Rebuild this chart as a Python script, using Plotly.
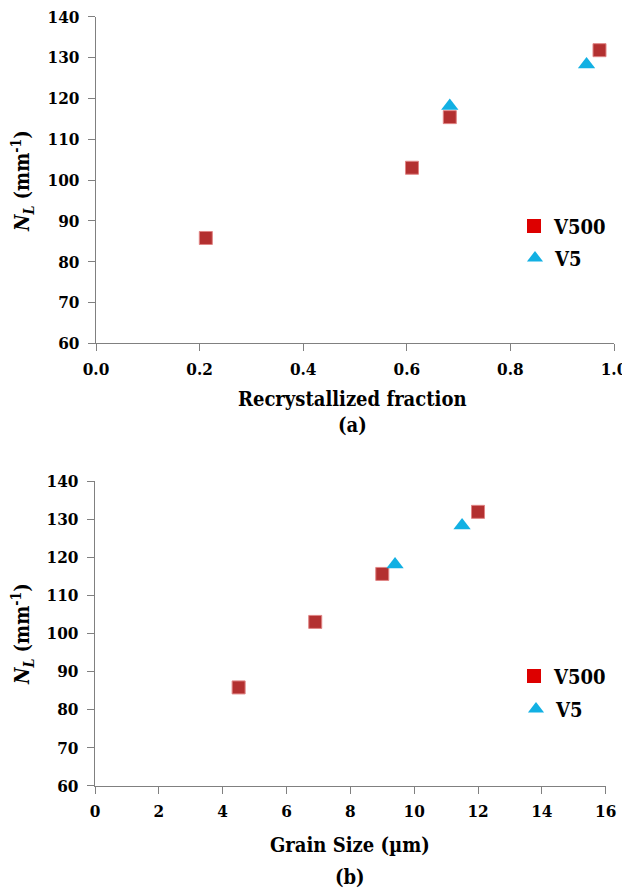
import plotly.graph_objects as go

# ---- data ----
v500_frac = [0.212, 0.61, 0.683, 0.972]
v500_nl_a = [85.8, 103.0, 115.4, 131.8]
v5_frac = [0.683, 0.947]
v5_nl_a = [118.1, 128.3]

v500_grain = [4.5, 6.9, 9.0, 12.0]
v500_nl_b = [85.8, 103.0, 115.6, 131.9]
v5_grain = [9.4, 11.5]
v5_nl_b = [118.1, 128.3]

series_names = ["V500", "V5"]

FONT = "DejaVu Serif Condensed"
SZ = dict(tick=17, title=20, leg=20)
OFF = 8  # page body margin
W, H = 630 - OFF, 891 - OFF
SQ_COLOR = "#b33030"
SQ_LINE = "#e08585"
TRI_COLOR = "#12b0e3"
LEG_RED = "#dd0000"

fig = go.Figure()

def add_points(x, y, xa, ya, symbol, color, line_color, size):
    fig.add_trace(go.Scatter(
        x=x, y=y, mode="markers", xaxis=xa, yaxis=ya, showlegend=False,
        marker=dict(symbol=symbol, size=size, color=color,
                    line=dict(color=line_color if line_color else color,
                              width=1 if line_color else 0)),
    ))

add_points(v500_frac, v500_nl_a, "x", "y", "square", SQ_COLOR, SQ_LINE, 13)
add_points(v5_frac, v5_nl_a, "x", "y", "triangle-up", TRI_COLOR, None, 15)
add_points(v500_grain, v500_nl_b, "x2", "y2", "square", SQ_COLOR, SQ_LINE, 13)
add_points(v5_grain, v5_nl_b, "x2", "y2", "triangle-up", TRI_COLOR, None, 15)

leg_specs = [
    (series_names[0], "square", LEG_RED, "legend", "x", "y"),
    (series_names[1], "triangle-up", TRI_COLOR, "legend2", "x", "y"),
    (series_names[0], "square", LEG_RED, "legend3", "x2", "y2"),
    (series_names[1], "triangle-up", TRI_COLOR, "legend4", "x2", "y2"),
]
for name, sym, col, leg, xa, ya in leg_specs:
    fig.add_trace(go.Scatter(
        x=[None], y=[None], mode="markers", name="<b>" + name + "</b>",
        legend=leg, xaxis=xa, yaxis=ya,
        marker=dict(symbol=sym, size=14, color=col),
    ))

def px_x(p):
    return (p - OFF) / W

def px_y(p):
    return 1 - (p - OFF) / H

def axis_common(standoff):
    return dict(
        showline=True, linecolor="#808080", linewidth=1.3,
        ticks="outside", ticklen=7, tickcolor="#808080", tickwidth=1.3,
        showgrid=False, zeroline=False, automargin=False,
        ticklabeloverflow="allow", ticklabelstandoff=standoff,
        tickfont=dict(family=FONT, size=SZ["tick"], color="black"),
        tickprefix="<b>", ticksuffix="</b>",
        fixedrange=True,
    )

def leg(xp, yp):
    return dict(x=px_x(xp), y=px_y(yp), xanchor="left", yanchor="middle",
                font=dict(family=FONT, size=SZ["leg"], color="black"),
                bgcolor="rgba(0,0,0,0)", itemwidth=30)

fig.update_layout(
    width=W, height=H,
    margin=dict(l=0, r=0, t=0, b=0, autoexpand=False),
    paper_bgcolor="white", plot_bgcolor="white",
    font=dict(family=FONT, color="black"),
    xaxis=dict(domain=[px_x(96), px_x(614)], range=[0, 1], dtick=0.2,
               tickformat=".1f", anchor="y", **axis_common(3)),
    yaxis=dict(domain=[px_y(343.3), px_y(16.7)], range=[60, 140], dtick=10,
               anchor="x", **axis_common(5)),
    xaxis2=dict(domain=[px_x(95), px_x(605.7)], range=[0, 16], dtick=2,
                anchor="y2", **axis_common(3)),
    yaxis2=dict(domain=[px_y(785.7), px_y(481)], range=[60, 140], dtick=10,
                anchor="x2", **axis_common(5)),
    legend=leg(514, 226),
    legend2=leg(515, 258),
    legend3=leg(514, 676),
    legend4=leg(516, 709),
)

ytitle = "<b><i>N</i><sub><i>L</i></sub> (mm<sup>-1</sup>)</b>"
annotations = [
    dict(text="<b>Recrystallized fraction</b>", x=px_x(352), y=px_y(399)),
    dict(text="<b>(a)</b>", x=px_x(352), y=px_y(425)),
    dict(text="<b>Grain Size (µm)</b>", x=px_x(350), y=px_y(845)),
    dict(text="<b>(b)</b>", x=px_x(350), y=px_y(877)),
    dict(text=ytitle, x=px_x(22), y=px_y(181), textangle=-90),
    dict(text=ytitle, x=px_x(22), y=px_y(634), textangle=-90),
]
for a in annotations:
    fig.add_annotation(xref="paper", yref="paper", showarrow=False,
                       xanchor="center", yanchor="middle",
                       font=dict(family=FONT, size=SZ["title"], color="black"), **a)

fig.write_html("out.html")
